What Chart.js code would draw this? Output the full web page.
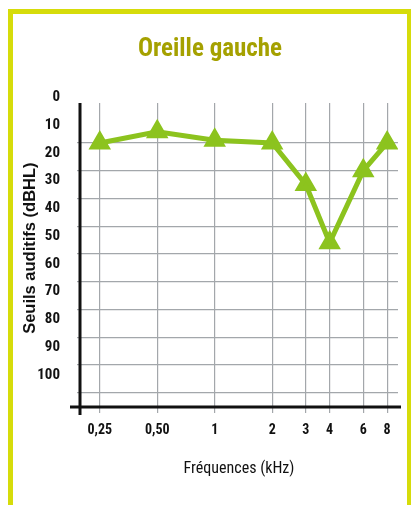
<!DOCTYPE html>
<html>
<head>
<meta charset="utf-8">
<script src="https://cdn.jsdelivr.net/npm/chart.js@4"></script>
<style>
  body { margin: 0; background: #fff; }
  #wrap { position: relative; width: 411px; height: 505px; overflow: hidden; }
  #frame { position: absolute; left: 8px; top: 9px; width: 394px; height: 600px; border: 5px solid #d6dc0a; pointer-events: none; }
  canvas { position: absolute; left: 0; top: 0; }
</style>
</head>
<body>
<div id="wrap">
  <canvas id="chart" width="411" height="505"></canvas>
  <div id="frame"></div>
</div>
<script>
// audiogram, left ear
const freqs = [0.25, 0.5, 1, 2, 3, 4, 6, 8];
const freqLabels = ['0,25', '0,50', '1', '2', '3', '4', '6', '8'];
const thresholds = [20, 16, 19, 20, 35, 56, 30, 20];
const dbTicks = [0, 10, 20, 30, 40, 50, 60, 70, 80, 90, 100, 110];

const green = '#8cc31e';
const grey = '#a3a7ab';
const narrow = '"Roboto Condensed", "Liberation Sans", Arial, sans-serif';
Chart.defaults.font.family = narrow;
Chart.defaults.color = '#111';

// thick black axes that cross a little past each other
const crossAxes = {
  id: 'crossAxes',
  afterDraw(chart){
    const {ctx, chartArea: a} = chart;
    ctx.save();
    ctx.strokeStyle = '#111';
    ctx.lineWidth = 3;
    ctx.beginPath();
    ctx.moveTo(a.left, a.top);
    ctx.lineTo(a.left, a.bottom + 8);
    ctx.moveTo(a.left - 10, a.bottom);
    ctx.lineTo(a.right + 3, a.bottom);
    ctx.stroke();
    ctx.restore();
  }
};

new Chart(document.getElementById('chart'), {
  type: 'line',
  data: {
    datasets: [{
      data: freqs.map((f, i) => ({x: f, y: thresholds[i]})),
      borderColor: green,
      backgroundColor: green,
      borderWidth: 5,
      tension: 0,
      pointStyle: 'triangle',
      pointRadius: 8,
      pointHoverRadius: 8
    }]
  },
  options: {
    responsive: false,
    animation: false,
    events: [],
    layout: { padding: { left: 21, right: 12, top: 0, bottom: 0 } },
    plugins: {
      legend: { display: false },
      tooltip: { enabled: false },
      title: {
        display: true,
        text: 'Oreille gauche',
        color: '#a5a100',
        font: { size: 25, weight: 'bold' },
        padding: { top: 35, bottom: 38 }
      }
    },
    scales: {
      x: {
        type: 'logarithmic',
        min: 0.197,
        max: 9.12,
        bounds: 'data',
        afterBuildTicks: s => { s.ticks = freqs.map(v => ({value: v})); },
        afterFit: s => { s.height = 98; },
        border: { display: false },
        grid: { color: grey, lineWidth: 1.2, tickLength: 6 },
        ticks: {
          autoSkip: false,
          maxRotation: 0,
          padding: 9,
          font: { size: 14, weight: 'bold' },
          callback: (v, i) => freqLabels[i]
        },
        title: {
          display: true,
          text: 'Fréquences (kHz)',
          font: { size: 16 },
          padding: { top: 0, bottom: 26 }
        }
      },
      y: {
        type: 'linear',
        reverse: true,
        min: 5.6,
        max: 115.2,
        bounds: 'data',
        afterBuildTicks: s => { s.ticks = dbTicks.map(v => ({value: v})); },
        afterFit: s => { s.width = 59; },
        border: { display: false },
        grid: {
          color: c => (c.tick && c.tick.value >= 20) ? grey : 'rgba(0,0,0,0)',
          lineWidth: 1.2,
          tickLength: 3
        },
        ticks: {
          autoSkip: false,
          padding: 17,
          labelOffset: 10,
          font: { size: 15, weight: 'bold' },
          callback: v => v <= 100 ? String(v) : ''
        },
        title: {
          display: true,
          text: '   Seuils auditifs (dBHL)',
          font: { family: '"Liberation Sans", Arial, sans-serif', size: 16.5, weight: 'bold' },
          padding: { top: 0, bottom: 0 }
        }
      }
    }
  },
  plugins: [crossAxes]
});
</script>
</body>
</html>
